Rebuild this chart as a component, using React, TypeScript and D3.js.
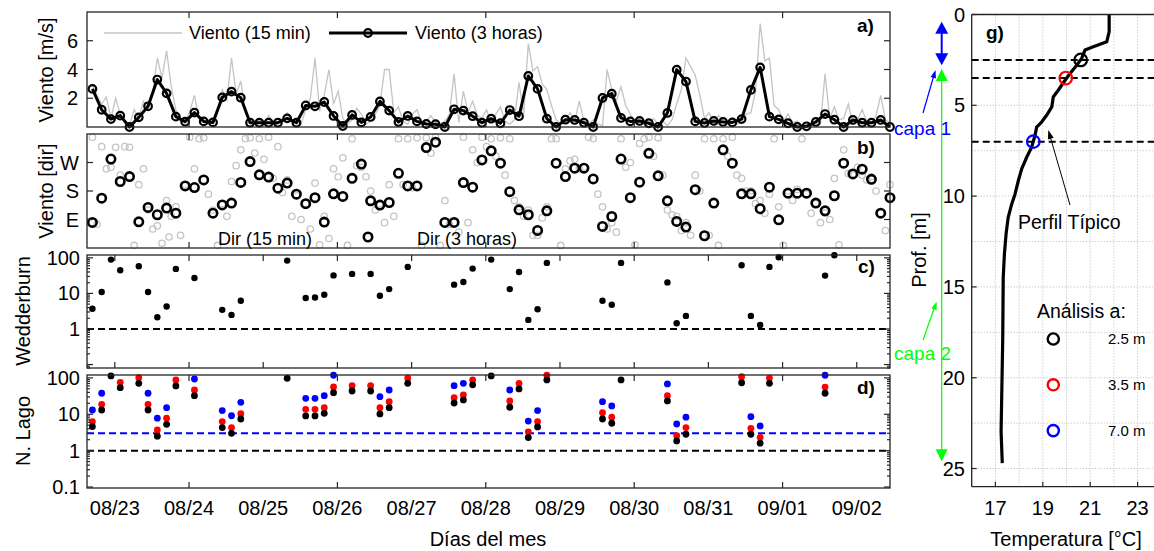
import React from "react";
import * as d3 from "d3";

const FONT = "'Liberation Sans', Arial, Helvetica, sans-serif";
const HOUR = 3600e3;
// 3-hour averages start 08/22 16:45; the 15-min series is kept every 1.5 h
const START = Date.UTC(2014, 7, 22, 16, 45);

const wind3h = [
  2.65, 1.2, 0.55, 0.79, 0.0, 0.67, 1.44, 3.3, 2.34, 0.72,
  0.37, 1.0, 0.39, 0.32, 2.06, 2.46, 2.04, 0.3, 0.3, 0.3,
  0.3, 0.6, 0.3, 1.5, 1.44, 1.74, 0.77, 0.07, 0.84, 0.32,
  0.7, 1.78, 1.14, 0.35, 0.77, 0.39, 0.21, 0.19, 0.0, 1.23,
  1.14, 0.75, 0.3, 0.58, 0.26, 1.18, 0.75, 3.55, 2.65, 0.58,
  0.0, 0.51, 0.49, 0.3, 0.0, 2.02, 2.32, 0.63, 0.39, 0.42,
  0.26, 0.0, 0.98, 3.99, 3.16, 0.39, 0.28, 0.42, 0.35, 0.32,
  0.55, 2.58, 4.15, 0.72, 0.53, 0.26, 0.0, 0.05, 0.35, 0.9,
  0.51, 0.0, 0.49, 0.3, 0.3, 0.49, 0.0,
];

const wind15 = [
  2.9, 2.2, 1.6, 2.1, 0.6, 2.0, 0.9, 0.3, 0.1, 1.2,
  0.6, 1.8, 1.3, 2.4, 4.8, 3.4, 5.3, 2.8, 1.2, 0.4,
  0.3, 1.1, 2.2, 0.6, 0.3, 0.5, 0.2, 1.1, 2.6, 1.9,
  4.8, 2.3, 3.2, 1.0, 0.4, 0.2, 0.5, 0.1, 0.8, 0.2,
  0.2, 0.6, 1.0, 0.3, 0.4, 0.2, 1.2, 2.0, 4.8, 1.1,
  2.2, 4.0, 1.6, 2.5, 0.6, 0.2, 0.5, 1.3, 0.9, 0.2,
  0.4, 0.9, 1.5, 4.0, 4.0, 1.0, 1.4, 0.4, 0.2, 0.9,
  1.2, 0.3, 0.4, 0.8, 0.3, 0.2, 0.4, 0.9, 3.7, 0.3,
  2.5, 1.0, 1.8, 0.8, 0.6, 1.2, 0.3, 0.9, 1.4, 0.4,
  0.2, 0.5, 3.1, 0.9, 5.8, 3.9, 4.2, 3.0, 2.6, 1.5,
  0.5, 0.2, 0.4, 1.0, 0.4, 1.8, 0.4, 0.2, 0.5, 0.2,
  0.1, 4.0, 2.6, 1.8, 2.8, 1.5, 0.9, 0.3, 0.6, 0.2,
  0.3, 0.6, 0.2, 0.4, 0.1, 0.5, 1.6, 2.6, 4.8, 4.2,
  3.6, 2.2, 0.6, 1.0, 0.2, 0.8, 0.5, 0.3, 0.6, 0.2,
  0.3, 0.9, 1.0, 2.5, 7.2, 4.6, 4.8, 1.5, 1.2, 0.4,
  0.9, 0.3, 0.4, 0.1, 0.2, 0.1, 0.3, 0.2, 3.7, 0.6,
  1.4, 0.5, 0.6, 1.6, 0.2, 0.5, 1.2, 0.4, 0.3, 0.8,
  2.2, 0.5, 0.3,
];

const dir3h = [
  80.7, 157.5, 281, 210, 225.6, 82.8, 128, 105, 126, 110,
  196, 191, 215, 110, 136, 142, 207, 273, 231, 224,
  189, 205, 170, 140, 159, 82, 171, 163, 220, 265,
  149, 135.5, 143.7, 236, 196, 196, 317, 334, 80.6, 80.6,
  206.6, 192, 278, 307, 268, 178, 120.6, 105, 55.6, 117.5,
  268, 225.6, 252, 252, 218, 68, 99.5, 281, 159, 208,
  299, 228, 149, 84, 66, 184, 38.7, 142, 310, 268,
  171, 171, 124, 192, 89, 173, 173, 173, 142, 117.5,
  165, 268, 234, 249, 217, 110, 159,
];

const dir15 = [
  350, 75, 320, 250, 255, 318, 230, 320, 318, 8,
  200, 250, 120, 60, 70, 15, 150, 100, 130, 40,
  200, 350, 250, 345, 348, 170, 120, 8, 140, 100,
  210, 260, 310, 345, 348, 300, 345, 280, 350, 220,
  320, 175, 215, 100, 165, 90, 140, 60, 205, 10,
  100, 30, 250, 225, 285, 8, 345, 260, 255, 225,
  180, 120, 140, 80, 200, 100, 345, 200, 345, 190,
  348, 8, 348, 300, 350, 8, 150, 75, 80, 50,
  350, 80, 310, 270, 350, 320, 345, 290, 348, 230,
  345, 150, 130, 100, 120, 40, 40, 95, 130, 345,
  345, 8, 250, 275, 280, 250, 255, 350, 345, 170,
  130, 60, 80, 50, 345, 255, 270, 10, 330, 345,
  350, 290, 348, 230, 120, 105, 100, 55, 80, 40,
  230, 180, 345, 40, 345, 8, 345, 290, 350, 230,
  220, 180, 180, 140, 150, 110, 170, 345, 130, 8,
  180, 150, 185, 345, 170, 110, 140, 80, 110, 90,
  220, 10, 310, 235, 230, 255, 230, 215, 225, 180,
  110, 55, 200,
];

// Wedderburn number (index into the 3-hour grid)
const wedIdx = [0, 1, 2, 3, 5, 6, 7, 8, 9, 11, 14, 15, 16, 21, 23, 24, 25, 26, 28, 30, 31, 32, 34, 39, 40, 41, 43, 45, 46, 47, 48, 49, 55, 56, 57, 62, 63, 64, 70, 71, 72, 73, 74, 79, 80];
const wedVal = [3.7, 10.9, 89, 44.6, 57.8, 10.9, 2.14, 4.27, 48.8, 27.1, 3.45, 2.49, 6.2, 83.6, 7.4, 7.7, 9.2, 32, 35.3, 35.3, 8.6, 13.2, 55.6, 17.6, 20.9, 49.7, 89, 13.2, 40, 1.8, 3.6, 72, 6.2, 4.8, 72, 20.4, 1.45, 2.33, 61.8, 2.33, 1.3, 55.6, 104, 31.6, 118];

// Lake number at 2.5 m (black), 3.5 m (red), 7.0 m (blue)
const lakeIdx = [0, 1, 2, 3, 5, 6, 7, 8, 9, 11, 14, 15, 16, 21, 23, 24, 25, 26, 28, 30, 31, 32, 34, 39, 40, 41, 43, 45, 46, 47, 48, 49, 55, 56, 57, 62, 63, 64, 70, 71, 72, 73, 79];
const lake25 = [4.6, 13.1, 113, 53.7, 71, 13.1, 2.5, 5.3, 60, 32.4, 4.3, 3.0, 7.4, 97.6, 9.0, 9.0, 10.6, 39.1, 43.6, 43.6, 10.2, 15.2, 71, 20.4, 24.7, 64.3, 113, 15.6, 49.7, 2.3, 4.5, 87.6, 7.4, 5.66, 87.6, 23.2, 1.85, 2.82, 73.5, 2.82, 1.6, 71, 37.8];
const lake35 = [6.3, 18.8, null, 75.6, 101, 18.8, 3.7, 7.8, 87.6, 46.4, 6.3, 4.3, 10.4, null, 13.7, 13.7, 15.2, 56.1, 61, 61, 15.2, 22.2, 97.6, 28.5, 33.9, 87.6, null, 23.2, 71, 3.3, 6.3, 118, 11, 8.3, null, 32.4, 2.58, 4.3, 108, 4.1, 2.33, 99, 56];
const lake70 = [13.1, 37.8, null, null, null, 37.8, 7.8, 15.2, null, 93.3, 12.6, 9.1, 21.3, null, 27.5, 27.5, 32.4, 118, null, null, 30.5, 46.4, null, 61, 71, null, null, 46.4, null, 6.5, 12.6, null, 22.2, 16.9, null, 68, 5.4, 8.3, null, 8.6, 4.77, null, 118];

// typical temperature profile
const profT = [21.8, 21.8, 21.7, 21.13, 20.78, 20.64, 20.43, 20.15, 19.94, 19.65, 19.44, 19.38, 19.16, 18.95, 18.74, 18.67, 18.53, 18.32, 18.11, 17.97, 17.83, 17.69, 17.54, 17.45, 17.38, 17.33, 17.31, 17.24, 17.29];
const profZ = [0, 0.95, 1.5, 1.78, 1.96, 2.42, 2.79, 3.25, 3.62, 4.17, 4.54, 5.09, 5.55, 5.92, 6.2, 6.66, 7.3, 7.86, 8.5, 9.14, 9.88, 10.43, 11.17, 12.09, 13.19, 14.49, 17.8, 22.96, 24.7];
const anaDepth = [2.5, 3.5, 7.0];
const anaTemp = [20.6, 19.97, 18.6];
const anaColor = ["#000000", "#ff0000", "#0000ff"];
const anaLabel = ["2.5 m", "3.5 m", "7.0 m"];

const dirTicks = [90, 180, 270];
const dirLabels = ["E", "S", "W"];

const GRAY = "#c4c4c4";
const AX = "#262626";

function head(x1: number, y1: number, x2: number, y2: number, len: number, half: number) {
  const L = Math.hypot(x2 - x1, y2 - y1);
  const ux = (x2 - x1) / L, uy = (y2 - y1) / L;
  const bx = x2 - ux * len, by = y2 - uy * len;
  return `${x2},${y2} ${bx - uy * half},${by + ux * half} ${bx + uy * half},${by - ux * half}`;
}

export default function App() {
  const x = d3.scaleUtc()
    .domain([new Date(Date.UTC(2014, 7, 22, 15)), new Date(Date.UTC(2014, 8, 2, 10, 45))])
    .range([87, 890]);
  const t3 = (i: number) => new Date(START + i * 3 * HOUR);
  const t15 = (j: number) => new Date(START + j * 1.5 * HOUR);
  const yA = d3.scaleLinear().domain([0, 8]).range([127, 12]);
  const yB = d3.scaleLinear().domain([0, 360]).range([248, 134]);
  const yC = d3.scaleLog().domain([0.08, 120]).range([368, 255]);
  const yD = d3.scaleLog().domain([0.094, 120]).range([488, 375]);
  const xg = d3.scaleLinear().domain([16, 24]).range([971.7, 1161.3]);
  const yg = d3.scaleLinear().domain([0, 26]).range([14.5, 486.7]);

  const days = d3.utcDay.range(new Date(Date.UTC(2014, 7, 23)), new Date(Date.UTC(2014, 8, 3)));
  const evenDays = days.filter((_, k) => k % 2 === 1);
  const fmt = d3.utcFormat("%m/%d");
  const [L, R] = x.range();

  const line15 = d3.line<number>().x((_, j) => x(t15(j))).y((d) => yA(d));
  const line3 = d3.line<number>().x((_, i) => x(t3(i))).y((d) => yA(d));
  const profLine = d3.line<number>().x((d) => xg(d)).y((_, k) => yg(profZ[k]));

  const frame = (top: number, bottom: number) => (
    <rect x={L} y={top} width={R - L} height={bottom - top} fill="none" stroke={AX} strokeWidth={1.3} />
  );
  const xTicks = (ds: Date[], top: number, bottom: number, len = 6) =>
    ds.map((d, k) => (
      <g key={k}>
        <line x1={x(d)} x2={x(d)} y1={top} y2={top + len} stroke={AX} strokeWidth={1.2} />
        <line x1={x(d)} x2={x(d)} y1={bottom} y2={bottom - len} stroke={AX} strokeWidth={1.2} />
      </g>
    ));
  const yTicks = (ys: number[], len = 6) =>
    ys.map((yy, k) => (
      <g key={k}>
        <line x1={L} x2={L + len} y1={yy} y2={yy} stroke={AX} strokeWidth={1.2} />
        <line x1={R} x2={R - len} y1={yy} y2={yy} stroke={AX} strokeWidth={1.2} />
      </g>
    ));
  const logTicks = (s: d3.ScaleLogarithmic<number, number>) => {
    const [lo, hi] = s.domain();
    const minor: number[] = [];
    const major: number[] = [];
    for (let e = -2; e <= 2; e++) {
      for (let m = 1; m <= 9; m++) {
        const v = m * Math.pow(10, e);
        if (v < lo || v > hi) continue;
        if (m === 1) major.push(v); else minor.push(v);
      }
    }
    return (
      <g>
        {yTicks(major.map((v) => s(v)), 6)}
        {yTicks(minor.map((v) => s(v)), 3)}
      </g>
    );
  };

  const tickText = { fontFamily: FONT, fontSize: 20, fill: "#000" } as const;
  const ylab = (txt: string, bx: number, cy: number) => (
    <text transform={`translate(${bx},${cy}) rotate(-90)`} textAnchor="middle" {...tickText}>{txt}</text>
  );
  const bold = (txt: string, tx: number, ty: number) => (
    <text x={tx} y={ty} fontFamily={FONT} fontSize={19} fontWeight="bold">{txt}</text>
  );

  return (
    <svg width={1154} height={551} style={{ position: "absolute", left: 0, top: 0, background: "#fff" }}>
      {/* ---------- panel a: wind speed ---------- */}
      <path d={line15(wind15) || ""} fill="none" stroke={GRAY} strokeWidth={1.3} />
      <path d={line3(wind3h) || ""} fill="none" stroke="#000" strokeWidth={3} strokeLinejoin="round" />
      {wind3h.map((v, i) => (
        <circle key={i} cx={x(t3(i))} cy={yA(v)} r={3.8} fill="none" stroke="#000" strokeWidth={2.2} />
      ))}
      {frame(12, 127)}
      {xTicks(evenDays, 12, 127)}
      {yTicks([2, 4, 6].map((v) => yA(v)))}
      {[2, 4, 6].map((v) => (
        <text key={v} x={78} y={yA(v)} dy="0.35em" textAnchor="end" {...tickText}>{v}</text>
      ))}
      {ylab("Viento [m/s]", 53, 70)}
      <line x1={104} x2={182} y1={33} y2={33} stroke={GRAY} strokeWidth={1.5} />
      <text x={189} y={39} fontFamily={FONT} fontSize={18}>Viento (15 min)</text>
      <line x1={329} x2={407} y1={33} y2={33} stroke="#000" strokeWidth={3} />
      <circle cx={368} cy={33} r={3.8} fill="none" stroke="#000" strokeWidth={2.2} />
      <text x={415} y={39} fontFamily={FONT} fontSize={18}>Viento (3 horas)</text>
      {bold("a)", 857, 32)}

      {/* ---------- panel b: wind direction ---------- */}
      {dir15.map((v, j) => (
        <circle key={j} cx={x(t15(j))} cy={yB(v)} r={3.2} fill="none" stroke={GRAY} strokeWidth={1.3} />
      ))}
      {dir3h.map((v, i) => (
        <circle key={i} cx={x(t3(i))} cy={yB(v)} r={4.2} fill="none" stroke="#000" strokeWidth={2.6} />
      ))}
      {frame(134, 248)}
      {xTicks(evenDays, 134, 248)}
      {yTicks(dirTicks.map((v) => yB(v)))}
      {dirTicks.map((v, k) => (
        <text key={v} x={79} y={yB(v)} dy="0.35em" textAnchor="end" {...tickText}>{dirLabels[k]}</text>
      ))}
      {ylab("Viento [dir]", 53, 191)}
      <circle cx={169} cy={237} r={3.2} fill="none" stroke={GRAY} strokeWidth={1.3} />
      <text x={218} y={245} fontFamily={FONT} fontSize={18}>Dir (15 min)</text>
      <circle cx={368} cy={237} r={4.2} fill="none" stroke="#000" strokeWidth={2.6} />
      <text x={417} y={245} fontFamily={FONT} fontSize={18}>Dir (3 horas)</text>
      {bold("b)", 857, 154)}

      {/* ---------- panel c: Wedderburn ---------- */}
      <line x1={L} x2={R} y1={yC(1)} y2={yC(1)} stroke="#000" strokeWidth={2} strokeDasharray="7,4" />
      {wedIdx.map((i, k) => (
        <circle key={k} cx={x(t3(i))} cy={yC(wedVal[k])} r={3.2} fill="#000" />
      ))}
      {frame(255, 368)}
      {xTicks(days, 255, 368)}
      {logTicks(yC)}
      {[100, 10, 1].map((v) => (
        <text key={v} x={80} y={yC(v)} dy="0.35em" textAnchor="end" {...tickText}>{v}</text>
      ))}
      {ylab("Wedderburn", 30, 311)}
      {bold("c)", 858, 273)}

      {/* ---------- panel d: Lake number ---------- */}
      <line x1={L} x2={R} y1={yD(1)} y2={yD(1)} stroke="#000" strokeWidth={2} strokeDasharray="7,4" />
      <line x1={L} x2={R} y1={yD(3)} y2={yD(3)} stroke="#0000ff" strokeWidth={2} strokeDasharray="7,4" />
      {[lake70, lake35, lake25].map((arr, s) =>
        lakeIdx.map((i, k) =>
          arr[k] == null ? null : (
            <circle key={`${s}-${k}`} cx={x(t3(i))} cy={yD(arr[k] as number)} r={3.4}
              fill={["#0000ff", "#ff0000", "#000000"][s]} />
          )
        )
      )}
      {frame(375, 488)}
      {xTicks(evenDays, 375, 488)}
      {logTicks(yD)}
      {[100, 10, 1, 0.1].map((v) => (
        <text key={v} x={80} y={yD(v)} dy="0.35em" textAnchor="end" {...tickText}>{v}</text>
      ))}
      {ylab("N. Lago", 30, 431)}
      {bold("d)", 857, 394)}
      {days.map((d, k) => (
        <text key={k} x={x(d)} y={515} textAnchor="middle" {...tickText}>{fmt(d)}</text>
      ))}
      <text x={488} y={546} textAnchor="middle" {...tickText}>Días del mes</text>

      {/* ---------- panel g: temperature profile ---------- */}
      {d3.range(16, 25).map((v) => (
        <line key={v} x1={xg(v)} x2={xg(v)} y1={yg(0)} y2={yg(26)} stroke="#b8b8b8" strokeWidth={1} strokeDasharray="1,2" />
      ))}
      {d3.range(2.5, 26, 2.5).map((v) => (
        <line key={v} x1={xg(16)} x2={xg(24)} y1={yg(v)} y2={yg(v)} stroke="#b8b8b8" strokeWidth={1} strokeDasharray="1,2" />
      ))}
      {anaDepth.map((z) => (
        <line key={z} x1={xg(16)} x2={xg(24)} y1={yg(z)} y2={yg(z)} stroke="#000" strokeWidth={2} strokeDasharray="7,4" />
      ))}
      <path d={profLine(profT) || ""} fill="none" stroke="#000" strokeWidth={3.2} strokeLinejoin="round" />
      {anaDepth.map((z, k) => (
        <circle key={z} cx={xg(anaTemp[k])} cy={yg(z)} r={6.3} fill="none" stroke={anaColor[k]} strokeWidth={2.2} />
      ))}
      <line x1={xg(16)} x2={xg(24)} y1={yg(0)} y2={yg(0)} stroke={AX} strokeWidth={1.3} />
      <line x1={xg(16)} x2={xg(24)} y1={yg(26)} y2={yg(26)} stroke={AX} strokeWidth={1.3} />
      <line x1={xg(16)} x2={xg(16)} y1={yg(0)} y2={yg(26)} stroke={AX} strokeWidth={1.3} />
      {[0, 5, 10, 15, 20, 25].map((v) => (
        <g key={v}>
          <line x1={xg(16)} x2={xg(16) + 5} y1={yg(v)} y2={yg(v)} stroke={AX} strokeWidth={1.2} />
          <text x={965} y={yg(v)} dy="0.35em" textAnchor="end" {...tickText}>{v}</text>
        </g>
      ))}
      {[17, 19, 21, 23].map((v) => (
        <g key={v}>
          <line x1={xg(v)} x2={xg(v)} y1={yg(26)} y2={yg(26) - 5} stroke={AX} strokeWidth={1.2} />
          <text x={xg(v)} y={515} textAnchor="middle" {...tickText}>{v}</text>
        </g>
      ))}
      {ylab("Prof. [m]", 926, 250)}
      <text x={1066} y={546} textAnchor="middle" {...tickText}>Temperatura [°C]</text>
      {bold("g)", 986, 39)}
      <text x={1018} y={229} fontFamily={FONT} fontSize={19.5}>Perfil Típico</text>
      <line x1={1070} y1={205} x2={1050} y2={136} stroke="#000" strokeWidth={1} />
      <polygon points={head(1070, 205, 1048.3, 130, 9, 3)} fill="#000" />
      <text x={1037} y={318} fontFamily={FONT} fontSize={19.5}>Análisis a:</text>
      {anaLabel.map((lab, k) => (
        <g key={lab}>
          <circle cx={1053.3} cy={339 + k * 45.8} r={5.6} fill="none" stroke={anaColor[k]} strokeWidth={2.4} />
          <text x={1108} y={339 + k * 45.8} dy="0.35em" fontFamily={FONT} fontSize={15}>{lab}</text>
        </g>
      ))}

      {/* layer arrows */}
      <line x1={941.7} x2={941.7} y1={yg(0.4) + 10} y2={yg(2.8) - 10} stroke="#0000ff" strokeWidth={2} />
      <polygon points={head(941.7, yg(2.8), 941.7, yg(0.4), 12, 6.5)} fill="#0000ff" />
      <polygon points={head(941.7, yg(0.4), 941.7, yg(2.8), 12, 6.5)} fill="#0000ff" />
      <line x1={941.7} x2={941.7} y1={yg(3.0) + 10} y2={yg(24.6) - 10} stroke="#00ff00" strokeWidth={1.2} />
      <polygon points={head(941.7, yg(24.6), 941.7, yg(3.0), 12, 6)} fill="#00ff00" />
      <polygon points={head(941.7, yg(3.0), 941.7, yg(24.6), 12, 6)} fill="#00ff00" />
      <line x1={923} y1={113} x2={934} y2={75} stroke="#0000ff" strokeWidth={1.2} />
      <polygon points={head(923, 113, 935.5, 70, 8, 2.8)} fill="#0000ff" />
      <text x={894} y={135} fontFamily={FONT} fontSize={19} fill="#0000ff">capa 1</text>
      <line x1={923} y1={340} x2={935} y2={306} stroke="#00ff00" strokeWidth={1.2} />
      <polygon points={head(923, 340, 936.7, 301.7, 8, 2.8)} fill="#00ff00" />
      <text x={894} y={360} fontFamily={FONT} fontSize={19} fill="#00ff00">capa 2</text>
    </svg>
  );
}
